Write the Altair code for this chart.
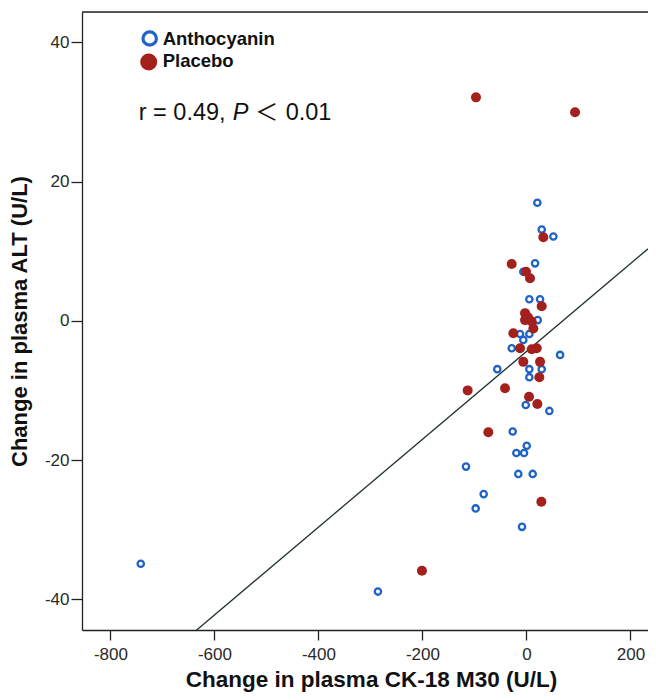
import altair as alt
import pandas as pd

# ---- data ----
antho_x = [21.0, 29.4, 51.8, 16.6, -6.0, 5.6, 26.2, 21.7, -12.3, 5.6, -6.0, -28.3, 64.7,
           5.6, 29.4, -56.0, 5.6, -1.3, 44.1, -26.4, 0.6, -19.4, -4.6, -116.2, -15.6,
           12.1, -82.2, -97.6, -8.5, -741.7, -285.6]
antho_y = [16.95, 13.1, 12.1, 8.25, 7.05, 3.1, 3.1, 0.1, -1.9, -1.9, -2.75, -3.95, -4.9,
           -6.95, -6.95, -6.95, -8.1, -12.1, -12.95, -15.9, -17.95, -19.0, -19.0, -20.95, -22.0,
           -22.0, -24.9, -26.95, -29.6, -34.9, -38.9]
placebo_x = [-97.0, 93.5, 32.5, -28.3, -0.8, 6.9, 29.4, -2.7, -2.7, 10.2, 13.3, -25.2,
             -12.3, 10.2, 19.8, -6.0, 26.2, 24.8, -113.0, -41.2, 5.0, 21.0, -73.3, 28.7,
             -200.9, 3.0]
placebo_y = [32.1, 29.95, 12.0, 8.15, 7.05, 6.1, 2.1, 1.1, 0.1, -0.1, -1.1, -1.8,
             -3.95, -4.1, -3.95, -5.9, -5.9, -8.1, -10.0, -9.7, -10.9, -11.95, -16.0, -26.0,
             -35.9, 0.5]
groups = ["Anthocyanin", "Placebo"]
x_ticks = [-800, -600, -400, -200, 0, 200]
y_ticks = [-40, -20, 0, 20, 40]
x_domain = [-854.7, 233.8]
y_domain = [-44.42, 44.36]
fit_intercept = -4.41
fit_slope = 0.0631

BLUE = "#1f63c6"
RED = "#a3201c"
AXIS = "#222222"
W, H = 566, 618

df_a = pd.DataFrame({"x": antho_x, "y": antho_y, "g": groups[0]})
df_p = pd.DataFrame({"x": placebo_x, "y": placebo_y, "g": groups[1]})
df_fit = pd.DataFrame({"x": x_domain,
                       "y": [fit_intercept + fit_slope * v for v in x_domain]})

xs = alt.Scale(domain=x_domain, nice=False, zero=False)
ys = alt.Scale(domain=y_domain, nice=False, zero=False)

lab_expr = "datum.value < 0 ? '-' + format(abs(datum.value), 'd') : format(datum.value, 'd')"

x_axis = alt.Axis(values=x_ticks, grid=False, title="Change in plasma CK-18 M30 (U/L)",
                  labelExpr=lab_expr, tickSize=10, labelPadding=6,
                  domainColor=AXIS, domainWidth=1.3, tickColor=AXIS, tickWidth=1.3,
                  labelFont="Liberation Sans", labelFontSize=17, labelColor="#2a2a2a",
                  titleFont="Liberation Sans", titleFontSize=22.5, titleFontWeight="bold",
                  titleColor="#111111",
                  titleX=289, titleY=56.5, titleBaseline="alphabetic", titleAlign="center")
y_axis = alt.Axis(values=y_ticks, grid=False, title="Change in plasma ALT (U/L)",
                  labelExpr=lab_expr, tickSize=11, labelPadding=2,
                  domainColor=AXIS, domainWidth=1.3, tickColor=AXIS, tickWidth=1.3,
                  labelFont="Liberation Sans", labelFontSize=17, labelColor="#2a2a2a",
                  titleFont="Liberation Sans", titleFontSize=22, titleFontWeight="bold",
                  titleColor="#111111",
                  titleX=-63, titleBaseline="middle", titleAngle=-90)

X = alt.X("x:Q", scale=xs, axis=x_axis)
Y = alt.Y("y:Q", scale=ys, axis=y_axis)

fit = alt.Chart(df_fit).mark_line(color="#1f2f2f", strokeWidth=1.3, clip=True).encode(x=X, y=Y)

pts_a = alt.Chart(df_a).mark_point(shape="circle", filled=False, size=40, strokeWidth=2.3,
                                   color=BLUE, opacity=1).encode(x=X, y=Y)
pts_p = alt.Chart(df_p).mark_circle(size=100, color=RED, opacity=1).encode(x=X, y=Y)

top_rule = alt.Chart(pd.DataFrame({"a": [0]})).mark_rule(color=AXIS, strokeWidth=1.3).encode(
    x=alt.value(0), x2=alt.value(W), y=alt.value(0)
)


def label(txt, x, y, **kw):
    return alt.Chart(pd.DataFrame({"t": [txt]})).mark_text(**kw).encode(
        x=alt.value(x), y=alt.value(y), text="t:N"
    )


leg_a = alt.Chart(pd.DataFrame({"g": [groups[0]]})).mark_point(
    shape="circle", filled=False, size=180, strokeWidth=3.2, color=BLUE, opacity=1
).encode(x=alt.value(67.7), y=alt.value(26.5))
leg_p = alt.Chart(pd.DataFrame({"g": [groups[1]]})).mark_circle(
    size=290, color=RED, opacity=1
).encode(x=alt.value(66.7), y=alt.value(50))

bold = dict(font="Liberation Sans", fontWeight="bold", fontSize=18.5, color="#111111",
            align="left", baseline="alphabetic")
txt_a = label(groups[0], 80.7, 33.3, **bold)
txt_p = label(groups[1], 80.7, 55, **bold)

reg = dict(font="Liberation Sans", fontSize=23.5, color="#111111", baseline="alphabetic")
ann1 = label("r = 0.49,", 56.7, 108.3, align="left", **reg)
ann2 = label("P", 150.7, 108.3, align="left", fontStyle="italic", **reg)
ann3 = alt.Chart(pd.DataFrame({"t": ["＜"]})).mark_text(
    font="Noto Sans CJK SC", fontSize=23, color="#111111", baseline="alphabetic", align="center"
).encode(x=alt.value(184.7), y=alt.value(108.3), text="t:N")
ann4 = label("0.01", 203.7, 108.3, align="left", **reg)

chart = alt.layer(
    fit, pts_a, pts_p, top_rule, leg_a, leg_p, txt_a, txt_p, ann1, ann2, ann3, ann4
).properties(
    width=W, height=H,
    autosize=alt.AutoSizeParams(type="none"),
    padding={"left": 74, "top": 4, "right": 0, "bottom": 62},
).configure_view(stroke=None).configure(background="#ffffff")

chart.save("out.html", embed_options={"renderer": "svg", "actions": False})
